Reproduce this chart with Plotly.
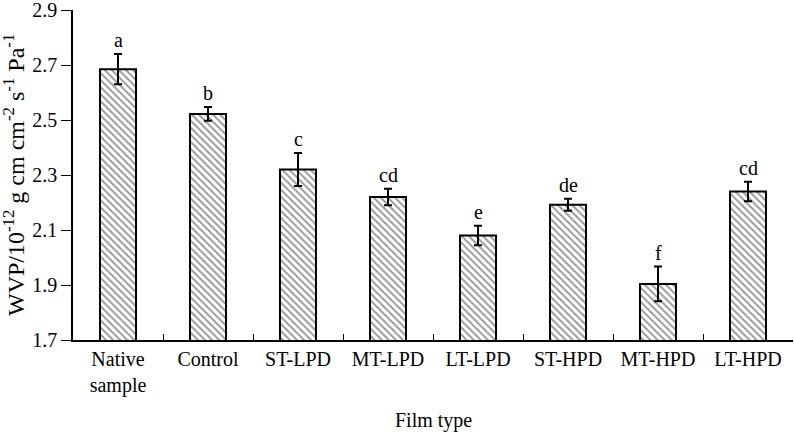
import plotly.graph_objects as go

categories = ["Native<br>sample", "Control", "ST-LPD", "MT-LPD", "LT-LPD", "ST-HPD", "MT-HPD", "LT-HPD"]
values = [2.685, 2.522, 2.32, 2.22, 2.08, 2.192, 1.904, 2.24]
errors = [0.055, 0.025, 0.06, 0.03, 0.035, 0.022, 0.063, 0.035]
letters = ["a", "b", "c", "cd", "e", "de", "f", "cd"]
y_ticks = [1.7, 1.9, 2.1, 2.3, 2.5, 2.7, 2.9]

font = "Liberation Serif, Times New Roman, serif"

fig = go.Figure()
fig.add_trace(go.Bar(
    x=categories, y=values, width=0.4,
    marker=dict(color="white", line=dict(color="black", width=2),
                pattern=dict(shape="\\", fgcolor="#333333", bgcolor="white", size=5, solidity=0.4)),
    error_y=dict(type="data", array=errors, visible=True, color="black", thickness=2, width=4),
))

for c, v, e, l in zip(categories, values, errors, letters):
    fig.add_annotation(x=c, y=v + e, text=l, showarrow=False, yanchor="bottom", yshift=1,
                       font=dict(family=font, size=20, color="black"))

fig.add_annotation(xref="paper", yref="paper", x=0, y=0.5, xanchor="center", yanchor="middle",
                   xshift=-59, textangle=-90,
                   text="WVP/10<sup>-12</sup> g cm cm<sup>-2</sup> s<sup>-1</sup> Pa<sup>-1</sup>",
                   showarrow=False, font=dict(family=font, size=24, color="black"))
fig.add_annotation(xref="paper", yref="paper", x=0.5, y=0, xanchor="center", yanchor="middle",
                   yshift=-80,
                   text="Film type", showarrow=False, font=dict(family=font, size=20, color="black"))

fig.update_layout(
    width=794, height=432,
    margin=dict(l=73, r=1, t=10, b=92),
    plot_bgcolor="white", paper_bgcolor="white",
    showlegend=False, bargap=0.6,
    font=dict(family=font, size=20, color="black"),
)
fig.update_xaxes(
    automargin=False,
    showline=True, linecolor="black", linewidth=1.5,
    ticks="inside", tickson="boundaries", ticklen=6, tickcolor="black",
    tickfont=dict(family=font, size=20),
)
fig.update_yaxes(
    automargin=False, ticklabeloverflow="allow",
    range=[1.7, 2.9], tickvals=y_ticks, ticktext=[f"{t:.1f}" for t in y_ticks],
    showline=True, linecolor="black", linewidth=1.5, showgrid=False, zeroline=False,
    ticks="outside", ticklen=10, tickcolor="black",
    tickfont=dict(family=font, size=20),
)

fig.write_html("out.html", config={"displayModeBar": False},
               post_script="document.body.style.margin='0';")
